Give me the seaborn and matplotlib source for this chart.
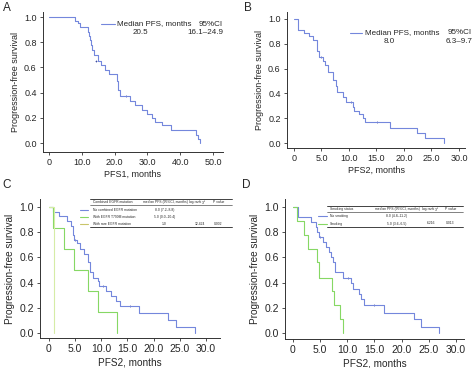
import numpy as np
import pandas as pd
import matplotlib
matplotlib.use("Agg")
import matplotlib.pyplot as plt
import seaborn as sns

# Kaplan-Meier step points (time in months, survival fraction)
a_time = [0, 7.9, 8.9, 9.6, 12.0, 12.3, 12.6, 12.9, 13.2, 13.6, 15.0, 15.9, 17.1, 18.2,
          20.6, 21.0, 21.6, 24.7, 26.2, 28.3, 29.8, 31.3, 32.3, 34.3, 37.1, 44.8, 45.4, 46.0]
a_surv = [1.0, 0.97, 0.95, 0.92, 0.88, 0.85, 0.82, 0.78, 0.74, 0.70, 0.65, 0.62, 0.58, 0.55,
          0.49, 0.42, 0.37, 0.33, 0.30, 0.26, 0.23, 0.20, 0.17, 0.14, 0.10, 0.06, 0.03, 0.0]
a_cens_t = [14.4, 23.6]
a_cens_s = [0.65, 0.37]

b_time = [0, 0.8, 1.8, 2.7, 3.5, 4.2, 4.6, 5.3, 5.7, 6.2, 7.1, 7.6, 7.8, 8.9, 9.4, 10.7,
          11.0, 11.9, 12.6, 13.0, 17.5, 22.3, 23.8, 27.3]
b_surv = [1.0, 0.91, 0.89, 0.86, 0.83, 0.74, 0.69, 0.66, 0.63, 0.57, 0.51, 0.46, 0.41, 0.37,
          0.33, 0.29, 0.26, 0.23, 0.20, 0.17, 0.12, 0.08, 0.04, 0.0]
b_cens_t = [5.0, 10.3, 15.1]
b_cens_s = [0.69, 0.33, 0.17]

c_none_time = [0, 0.8, 2.0, 3.4, 4.2, 4.6, 4.8, 5.4, 5.9, 6.6, 7.5, 7.8, 8.5, 9.3, 9.6,
               10.9, 11.9, 12.8, 13.6, 17.3, 22.8, 24.3, 28.0]
c_none_surv = [1.0, 0.96, 0.93, 0.89, 0.85, 0.78, 0.74, 0.71, 0.67, 0.63, 0.56, 0.48, 0.44,
               0.41, 0.37, 0.33, 0.29, 0.25, 0.21, 0.16, 0.10, 0.05, 0.0]
c_t790_time = [0, 0.8, 2.9, 4.7, 7.5, 9.4, 13.0]
c_t790_surv = [1.0, 0.83, 0.67, 0.50, 0.33, 0.17, 0.0]
c_rare_time = [0, 1.0]
c_rare_surv = [1.0, 0.0]
c_cens_t = [5.0, 10.4, 15.5]
c_cens_s = [0.74, 0.37, 0.21]

d_non_time = [0, 1.0, 3.4, 4.2, 4.5, 4.8, 5.6, 6.0, 6.6, 7.0, 7.4, 7.7, 9.2, 10.6, 11.0,
              12.1, 12.5, 13.0, 16.7, 22.2, 23.6, 26.9]
d_non_surv = [1.0, 0.92, 0.88, 0.84, 0.80, 0.76, 0.72, 0.68, 0.64, 0.60, 0.56, 0.48, 0.44,
              0.40, 0.35, 0.31, 0.27, 0.22, 0.16, 0.11, 0.05, 0.0]
d_smk_time = [0, 0.8, 2.0, 2.8, 4.4, 4.8, 7.1, 7.6, 8.7, 9.2]
d_smk_surv = [1.0, 0.89, 0.78, 0.67, 0.56, 0.44, 0.33, 0.22, 0.11, 0.0]
d_cens_t = [5.0, 10.2, 15.0]
d_cens_s = [0.76, 0.44, 0.22]

a_xticks = [0, 10, 20, 30, 40, 50]
b_xticks = [0, 5, 10, 15, 20, 25, 30]
yticks = [0.0, 0.2, 0.4, 0.6, 0.8, 1.0]

c_groups = ["No combined EGFR mutation", "With EGFR T790M mutation", "With rare EGFR mutation"]
c_median = ["8.0 (7.2\u20138.8)", "5.0 (0.0\u201310.4)", "1.0"]
c_chi, c_p = "12.424", "0.002"
d_groups = ["No smoking", "Smoking"]
d_median = ["8.0 (4.8\u201311.2)", "5.0 (3.6\u20136.5)"]
d_chi, d_p = "6.216", "0.013"

BLUE = "#7487dc"
GREEN = "#86d864"
RARE = "#d5eca6"
RARE_KEY = "#c9c56a"

sns.set_style("ticks")
plt.rcParams["font.family"] = ["Liberation Sans", "DejaVu Sans"]

W, H = 474, 368
fig = plt.figure(figsize=(W / 100, H / 100), dpi=100)


def px_axes(l, t, r, b):
    return fig.add_axes([l / W, 1 - b / H, (r - l) / W, (b - t) / H])


def fx(x):
    return x / W


def fy(y):
    return 1 - y / H


def km(ax, times, survs, groups, colors, ct, cs, cc):
    df = pd.concat([pd.DataFrame({"time": t, "surv": s, "group": g})
                    for t, s, g in zip(times, survs, groups)], ignore_index=True)
    sns.lineplot(data=df, x="time", y="surv", hue="group", palette=dict(zip(groups, colors)),
                 estimator=None, sort=False, drawstyle="steps-post", lw=0.8,
                 legend=False, ax=ax)
    sns.scatterplot(x=ct, y=cs, marker="+", s=4, color=cc, linewidth=0.5, ax=ax, legend=False)


def style(ax, xt, xlim, ylim, xlabel, fs_tick, fs_lab):
    ax.set_xlim(*xlim)
    ax.set_ylim(*ylim)
    ax.set_xticks(xt)
    ax.set_xticklabels(["0"] + [f"{v:.1f}" for v in xt[1:]], fontsize=fs_tick)
    ax.set_yticks(yticks)
    ax.set_yticklabels([f"{v:.1f}" for v in yticks], fontsize=fs_tick)
    ax.set_xlabel(xlabel, fontsize=fs_lab, labelpad=2)
    ax.set_ylabel("Progression-free survival", fontsize=fs_lab, labelpad=3)
    ax.tick_params(length=2.5, width=0.6, pad=2, color="#333333")
    for sp in ["left", "bottom"]:
        ax.spines[sp].set_linewidth(0.7)
        ax.spines[sp].set_color("#333333")
    sns.despine(ax=ax)


# Panel A
axA = px_axes(43, 12, 223, 152)
km(axA, [a_time], [a_surv], ["all"], [BLUE], a_cens_t, a_cens_s, "#3a4aa0")
style(axA, a_xticks, (-1.8, 53.0), (-0.071, 1.04), "PFS1, months", 6.5, 6.5)

# Panel B
axB = px_axes(287, 12, 465, 148)
km(axB, [b_time], [b_surv], ["all"], [BLUE], b_cens_t, b_cens_s, "#3a4aa0")
style(axB, b_xticks, (-1.27, 31.1), (-0.04, 1.056), "PFS2, months", 6.5, 6.5)

# Panel C
axC = px_axes(40, 199, 220, 338)
km(axC, [c_none_time, c_t790_time, c_rare_time], [c_none_surv, c_t790_surv, c_rare_surv],
   c_groups, [BLUE, GREEN, RARE], c_cens_t, c_cens_s, "#3a4aa0")
style(axC, b_xticks, (-1.72, 32.7), (-0.04, 1.063), "PFS2, months", 7.5, 7.2)

# Panel D
axD = px_axes(285, 199, 464, 339)
km(axD, [d_non_time, d_smk_time], [d_non_surv, d_smk_surv], d_groups, [BLUE, GREEN],
   d_cens_t, d_cens_s, "#3a4aa0")
style(axD, b_xticks, (-1.47, 31.5), (-0.048, 1.063), "PFS2, months", 7.5, 7.2)

# panel letters
for lab, x, y in [("A", 3, 2), ("B", 244, 2), ("C", 2, 179), ("D", 242, 179)]:
    fig.text(fx(x), fy(y), lab, fontsize=8.5, ha="left", va="top")

# legends for A and B
lfs = 5.8
fig.add_artist(plt.Line2D([fx(101), fx(115)], [fy(24), fy(24)], color=BLUE, lw=0.8))
fig.text(fx(117), fy(24), "Median PFS, months", fontsize=lfs, va="center")
fig.text(fx(223), fy(24), "95%CI", fontsize=lfs, va="center", ha="right")
fig.text(fx(140), fy(32.5), "20.5", fontsize=lfs, va="center", ha="center")
fig.text(fx(223), fy(32.5), "16.1\u201324.9", fontsize=lfs, va="center", ha="right")

fig.add_artist(plt.Line2D([fx(350), fx(362)], [fy(33), fy(33)], color=BLUE, lw=0.8))
fig.text(fx(365), fy(33), "Median PFS, months", fontsize=lfs, va="center")
fig.text(fx(472), fy(33), "95%CI", fontsize=lfs, va="center", ha="right")
fig.text(fx(389), fy(41.5), "8.0", fontsize=lfs, va="center", ha="center")
fig.text(fx(472), fy(41.5), "6.3\u20139.7", fontsize=lfs, va="center", ha="right")

# table legend for C
tfs = 2.4
for y, lw in [(199, 0.6), (205, 0.4), (227, 0.6)]:
    fig.add_artist(plt.Line2D([fx(90), fx(232)], [fy(y), fy(y)], color="#222222", lw=lw))
fig.text(fx(93), fy(202), "Combined EGFR mutation", fontsize=tfs, va="center")
fig.text(fx(165), fy(202), "median PFS (95%CI, months)", fontsize=tfs, va="center", ha="center")
fig.text(fx(197), fy(202), "log-rank \u03c7\u00b2", fontsize=tfs, va="center", ha="center")
fig.text(fx(219), fy(202), "P value", fontsize=tfs, va="center", ha="center")
for g, m, y, col in zip(c_groups, c_median, [210, 217, 224], [BLUE, GREEN, RARE_KEY]):
    fig.add_artist(plt.Line2D([fx(80), fx(88)], [fy(y), fy(y)], color=col, lw=0.8))
    fig.text(fx(93), fy(y), g, fontsize=tfs, va="center")
    fig.text(fx(164.5), fy(y), m, fontsize=tfs, va="center", ha="center")
fig.text(fx(200), fy(224), c_chi, fontsize=tfs, va="center", ha="center")
fig.text(fx(218), fy(224), c_p, fontsize=tfs, va="center", ha="center")

# table legend for D
for y, lw in [(206, 0.6), (212, 0.4), (227, 0.6)]:
    fig.add_artist(plt.Line2D([fx(327), fx(463)], [fy(y), fy(y)], color="#222222", lw=lw))
fig.text(fx(330), fy(209), "Smoking status", fontsize=tfs, va="center")
fig.text(fx(397), fy(209), "median PFS (95%CI, months)", fontsize=tfs, va="center", ha="center")
fig.text(fx(430), fy(209), "log-rank \u03c7\u00b2", fontsize=tfs, va="center", ha="center")
fig.text(fx(451), fy(209), "P value", fontsize=tfs, va="center", ha="center")
for g, m, y, col in zip(d_groups, d_median, [216, 223.5], [BLUE, GREEN]):
    fig.add_artist(plt.Line2D([fx(318), fx(327)], [fy(y), fy(y)], color=col, lw=0.8))
    fig.text(fx(330), fy(y), g, fontsize=tfs, va="center")
    fig.text(fx(397), fy(y), m, fontsize=tfs, va="center", ha="center")
fig.text(fx(431), fy(223.5), d_chi, fontsize=tfs, va="center", ha="center")
fig.text(fx(450), fy(223.5), d_p, fontsize=tfs, va="center", ha="center")

fig.savefig("out.png", dpi=100)
